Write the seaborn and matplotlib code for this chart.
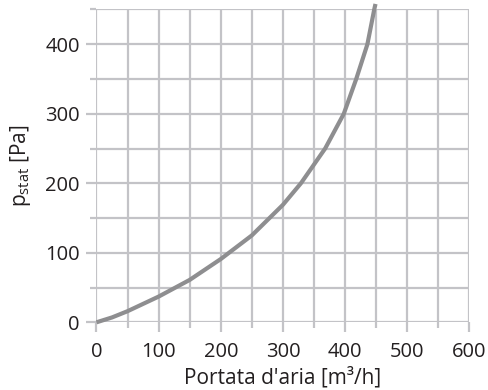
import matplotlib
matplotlib.use("Agg")
import matplotlib.pyplot as plt
from matplotlib.ticker import MultipleLocator
import seaborn as sns
import pandas as pd

# data
flow = [0, 25, 50, 100, 150, 200, 250, 300, 329, 368, 398, 418, 436, 447, 449]
pstat = [0, 7, 16, 37, 61, 91, 125, 169, 200, 250, 300, 350, 400, 450, 458]
x_ticks = [0, 100, 200, 300, 400, 500, 600]
y_ticks = [0, 100, 200, 300, 400]

sns.set_style("white")
plt.rcParams['font.family'] = ['Open Sans', 'DejaVu Sans']
plt.rcParams['mathtext.fontset'] = 'custom'
plt.rcParams['mathtext.rm'] = 'Open Sans'
plt.rcParams['mathtext.it'] = 'Open Sans'

fig = plt.figure(figsize=(4.89, 3.9), dpi=100)
ax = fig.add_axes([96.5/489, 67.7/390, (469.3-96.5)/489, (322.3-9.5)/390])

df = pd.DataFrame({"flow": flow, "pstat": pstat})
grid_c = "#c3c3c7"
txt_c = "#231f20"
sns.lineplot(data=df, x="flow", y="pstat", ax=ax, color="#8e8e90", lw=3.0,
             solid_capstyle="butt", solid_joinstyle="round", zorder=3, clip_on=False)

ax.set_xlim(0, 600)
ax.set_ylim(0, 450)
ax.set_xticks(x_ticks)
ax.set_yticks(y_ticks)
ax.xaxis.set_minor_locator(MultipleLocator(50))
ax.yaxis.set_minor_locator(MultipleLocator(50))
for s in ax.spines.values():
    s.set_visible(False)
ax.grid(True, which="both", color=grid_c, lw=1.6, zorder=0)
ax.set_axisbelow(True)
ax.tick_params(which="major", length=7.5, width=1.6, color=grid_c,
               labelsize=14.5, labelcolor=txt_c)
ax.tick_params(axis="x", which="major", pad=7)
ax.tick_params(axis="y", which="major", pad=4.5)
ax.tick_params(which="minor", length=4, width=1.6, color=grid_c)
ax.tick_params(axis="both", which="both", bottom=True, left=True)

ax.set_xlabel("Portata d'aria [m³/h]", fontsize=15, color=txt_c, labelpad=3)
ax.set_ylabel(r"p$_{\mathrm{stat}}$ [Pa]", fontsize=15, color=txt_c, labelpad=9)

fig.savefig("out.png", dpi=100)
